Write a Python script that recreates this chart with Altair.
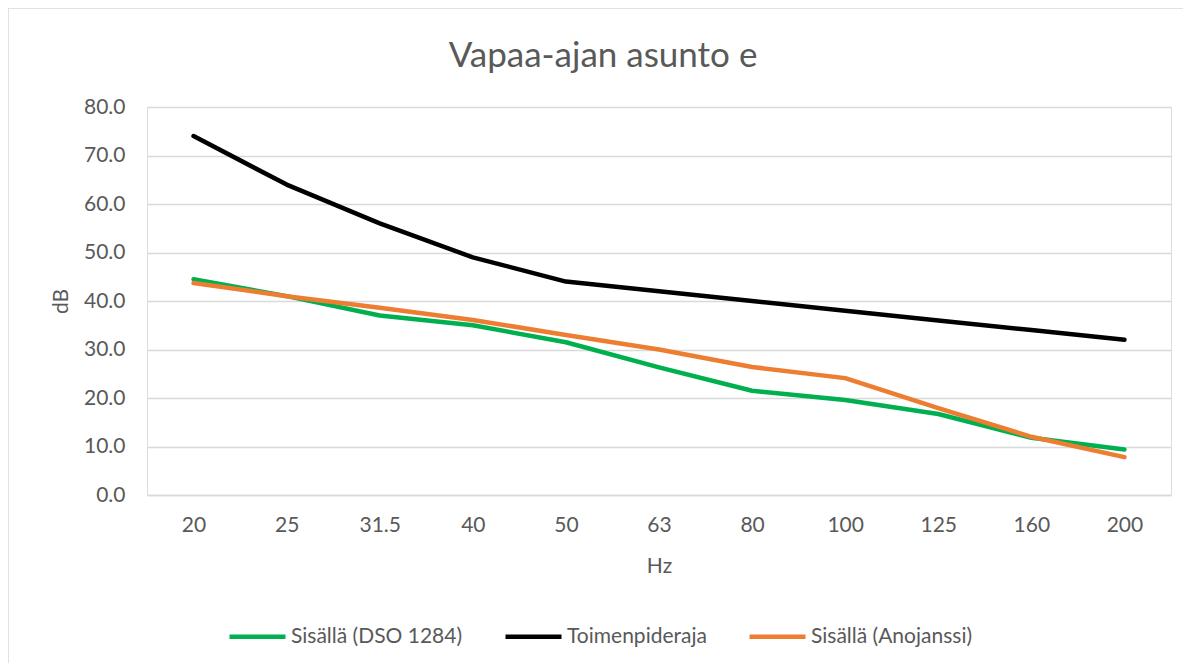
import altair as alt
import pandas as pd

freqs = ["20", "25", "31.5", "40", "50", "63", "80", "100", "125", "160", "200"]
series_names = ["Sisällä (DSO 1284)", "Toimenpideraja", "Sisällä (Anojanssi)"]
dso = [44.5, 41.0, 37.0, 35.0, 31.5, 26.3, 21.5, 19.6, 16.7, 11.8, 9.4]
limit = [74.0, 64.0, 56.0, 49.0, 44.0, 42.0, 40.0, 38.0, 36.0, 34.0, 32.0]
anojanssi = [43.7, 41.0, 38.6, 36.1, 33.0, 30.0, 26.4, 24.1, 17.9, 12.0, 7.8]
colors = ["#00B050", "#000000", "#ED7D31"]
y_ticks = [0, 10, 20, 30, 40, 50, 60, 70, 80]

rows = []
for name, vals in zip(series_names, [dso, limit, anojanssi]):
    for f, v in zip(freqs, vals):
        rows.append({"Hz": f, "dB": v, "series": name})
df = pd.DataFrame(rows)

FONT = "Lato"
GREY = "#595959"

lines = alt.Chart(df).mark_line(strokeWidth=4.5, strokeCap="round", strokeJoin="round").encode(
    x=alt.X("Hz:N", sort=freqs, scale=alt.Scale(type="point", padding=0.5),
            axis=alt.Axis(title="Hz", labelAngle=0, labelFontSize=21, titleFontSize=21,
                          labelColor=GREY, titleColor=GREY, labelFont=FONT, titleFont=FONT,
                          titleFontWeight="normal", ticks=False, domain=True,
                          domainColor="#D9D9D9", domainWidth=1.5, grid=False,
                          labelPadding=19, titlePadding=20)),
    y=alt.Y("dB:Q", scale=alt.Scale(domain=[0, 80], nice=False),
            axis=alt.Axis(title="dB", values=y_ticks, format=".1f", labelFontSize=21,
                          titleFontSize=21, labelColor=GREY, titleColor=GREY,
                          labelFont=FONT, titleFont=FONT, titleFontWeight="normal",
                          ticks=False, domain=False, gridColor="#D9D9D9", gridWidth=1.5,
                          labelPadding=22, titlePadding=12)),
    color=alt.Color("series:N", sort=series_names,
                    scale=alt.Scale(domain=series_names, range=colors),
                    legend=alt.Legend(title=None, orient="none", direction="horizontal",
                                      legendX=80, legendY=499, symbolType="stroke",
                                      symbolStrokeWidth=4.5, symbolSize=3136,
                                      labelFontSize=21, labelColor=GREY, labelFont=FONT,
                                      labelOffset=3, columnPadding=33, labelLimit=400)),
)

frame = alt.Chart(pd.DataFrame({"a": [0]})).mark_rect(
    fill=None, stroke="#D9D9D9", strokeWidth=1.5, clip=False
).encode(x=alt.value(-139), x2=alt.value(1100), y=alt.value(-99), y2=alt.value(700))

chart = alt.layer(frame, lines).properties(
    width=1024, height=388,
    title=alt.TitleParams("Vapaa-ajan asunto e", fontSize=35, color=GREY, font=FONT,
                          fontWeight="normal", anchor="middle", frame="group",
                          dx=-56, offset=-67),
    padding={"left": 139, "top": 99, "right": 12, "bottom": 168},
    autosize=alt.AutoSizeParams(type="none"),
).configure_view(stroke=None).configure(background="white")

chart.save("out.html", embed_options={"renderer": "svg", "actions": False})
